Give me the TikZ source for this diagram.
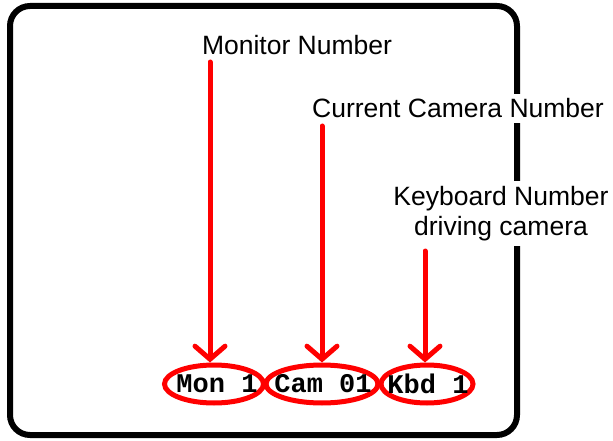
\documentclass[tikz,border=0pt]{standalone}
\usepackage{fontspec}
\setmainfont{Liberation Sans}
\newfontfamily\monofont{Liberation Mono}
\usetikzlibrary{shapes.geometric,arrows.meta}
\tikzset{
  frame/.style={draw=black, line width=6pt, rounded corners=20pt},
  caption/.style={fill=white, inner sep=5pt, font=\fontsize{26.5}{30}\selectfont, align=center},
  pointer/.style={draw=red, line width=5pt, line cap=round,
    -{Straight Barb[length=13pt, width=30pt, line cap=round]}},
  ring/.style={ellipse, draw=red, line width=5pt, inner sep=0pt, minimum height=38pt},
  fieldtext/.style={inner sep=0pt, font=\monofont\bfseries\fontsize{27}{28}\selectfont}
}
\begin{document}
\begin{tikzpicture}[x=1pt, y=-1pt]
  \useasboundingbox (0,0) rectangle (613,441);
  % display frame
  \draw[frame] (10,6) rectangle (517,435);
  % captions (white backgrounds cut the frame)
  \node[caption, anchor=base] (lmon) at (297,55) {Monitor Number};
  \node[caption, anchor=base] (lcam) at (458,118) {Current Camera Number};
  \node[caption, anchor=base] (lkbd) at (501,235) {Keyboard Number\\driving camera};
  % on-screen fields and their outlines
  \node[ring, minimum width=99pt] (mon) at (214,384) {};
  \node[ring, minimum width=112pt] (cam) at (322,384) {};
  \node[ring, minimum width=92pt] (kbd) at (427,384) {};
  \node[fieldtext] (tmon) at (217,384) {Mon 1};
  \node[fieldtext] (tcam) at (323,384) {Cam 01};
  \node[fieldtext] (tkbd) at (428,384) {Kbd 1};
  % pointer start points
  \coordinate (pm) at (210,62);
  \coordinate (pc) at (322,126);
  \coordinate (pk) at (425,251);
  \draw[pointer] (pm) -- (pm |- mon.north);
  \draw[pointer] (pc) -- (pc |- cam.north);
  \draw[pointer] (pk) -- (pk |- kbd.north);
\end{tikzpicture}
\end{document}
